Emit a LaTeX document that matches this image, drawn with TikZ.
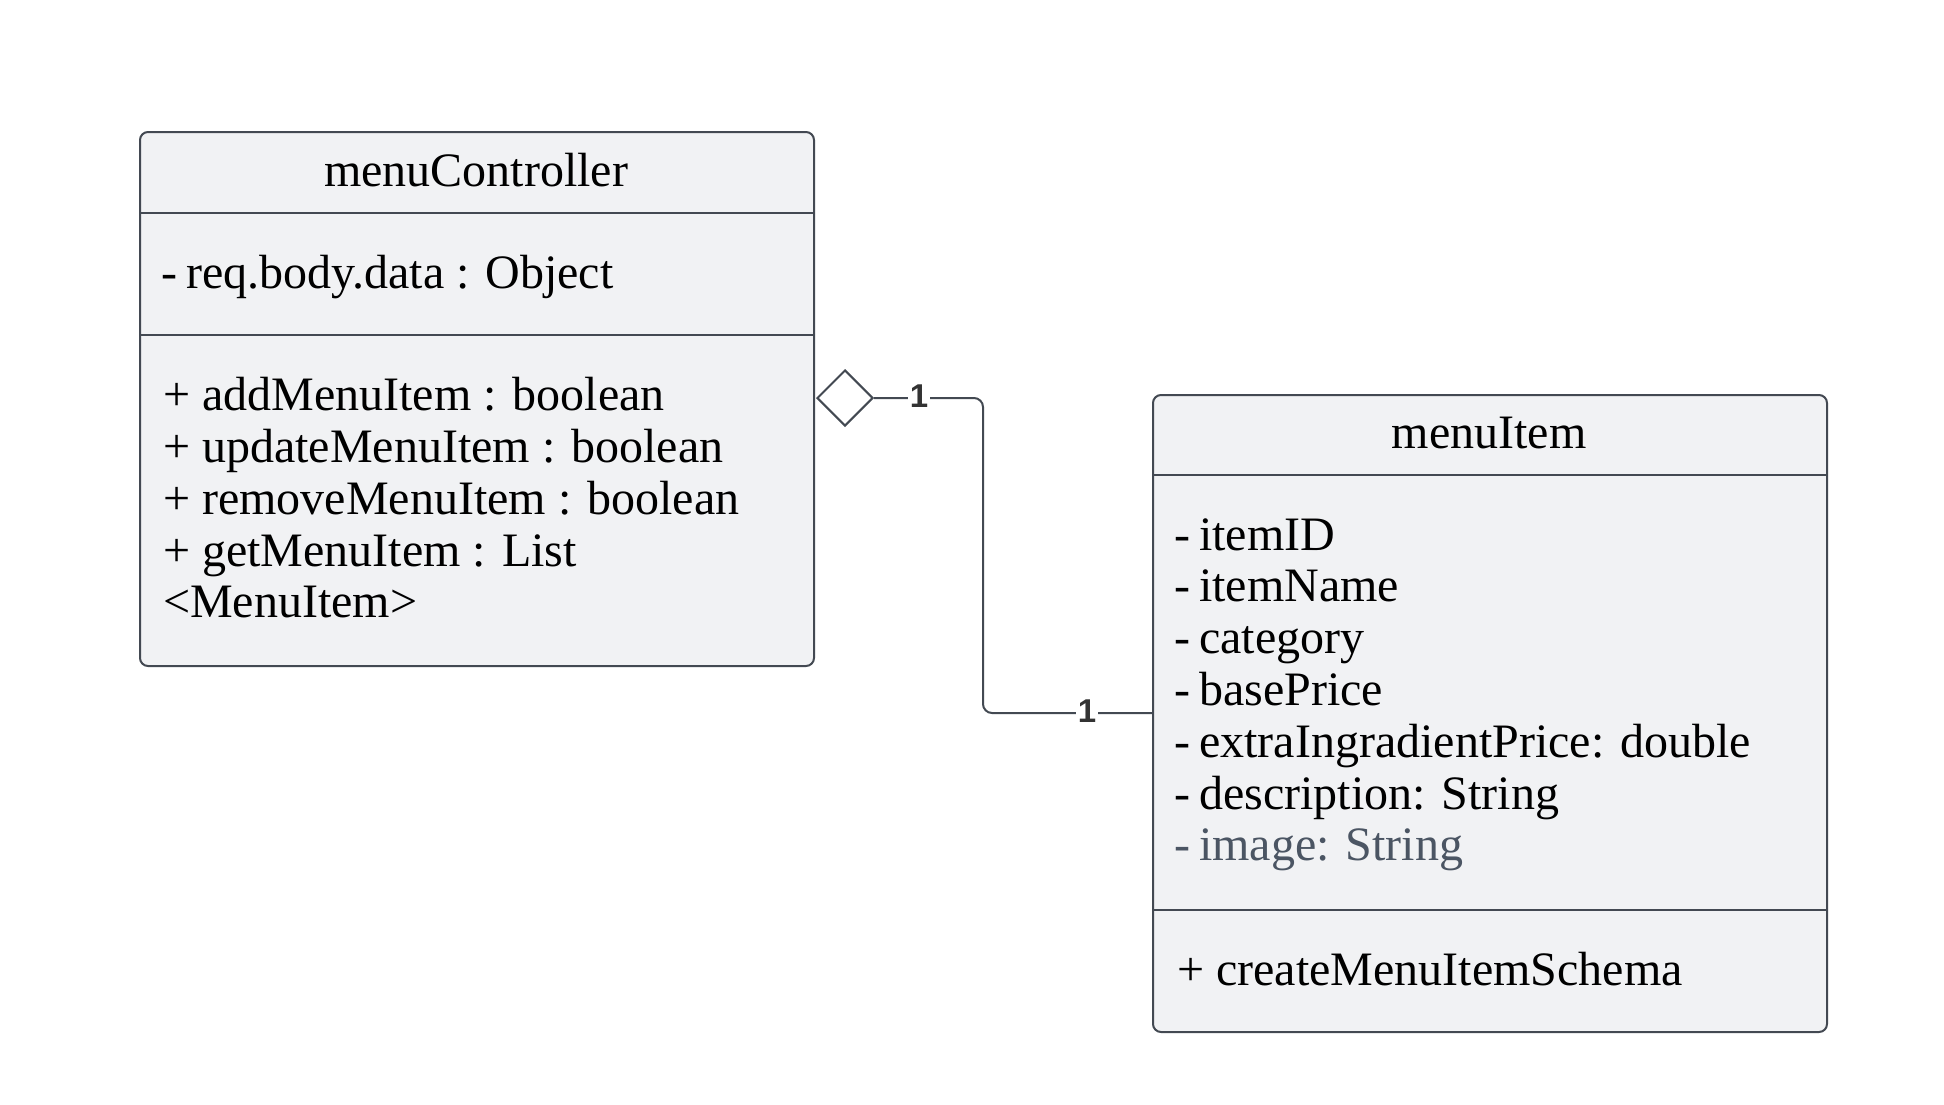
\documentclass[tikz,border=0pt]{standalone}
\usepackage{fontspec}
\setmainfont{Liberation Serif}
\newfontfamily\lblfont{Liberation Sans}
\usetikzlibrary{shapes.geometric}
\definecolor{strokec}{HTML}{434952}
\definecolor{fillc}{HTML}{F1F2F4}
\definecolor{grayt}{HTML}{4B5563}
\definecolor{lblc}{HTML}{333333}
\tikzset{
  classbox/.style={draw=strokec, fill=fillc, line width=2pt, rounded corners=8pt, anchor=north west, inner sep=0pt},
  sepline/.style={draw=strokec, line width=2pt},
  txt/.style={anchor=base west, inner sep=0pt, font=\fontsize{48}{52}\selectfont},
  ttl/.style={anchor=base, inner sep=0pt, font=\fontsize{48}{52}\selectfont},
  conn/.style={draw=strokec, line width=2pt, rounded corners=9pt},
  aggr/.style={diamond, draw=strokec, fill=white, line width=2pt, minimum width=56pt, minimum height=56pt, inner sep=0pt},
  mult/.style={fill=white, inner sep=1.5pt, text=lblc, font=\lblfont\bfseries\fontsize{33}{33}\selectfont}
}
\newcommand{\mn}{-\hspace{9pt}}
\begin{document}
\begin{tikzpicture}[x=1pt,y=-1pt]
\useasboundingbox (0,0) rectangle (1944,1104);
% menuController
\node[classbox, minimum width=674pt, minimum height=534pt] (ctrl) at (139,131) {};
\draw[sepline] (ctrl.west |- 0,213) -- (ctrl.east |- 0,213);
\draw[sepline] (ctrl.west |- 0,335) -- (ctrl.east |- 0,335);
\node[ttl] (ctrlT) at (476,186) {menuController};
\node[txt] (ca1) at (161,288) {\mn req.body.data : Object};
\node[txt] (cm1) at (163,410) {+ addMenuItem : boolean};
\node[txt] (cm2) at (163,462) {+ updateMenuItem : boolean};
\node[txt] (cm3) at (163,514) {+ removeMenuItem : boolean};
\node[txt] (cm4) at (163,566) {+ getMenuItem : List};
\node[txt] (cm5) at (163,617) {<MenuItem>};
% menuItem
\node[classbox, minimum width=674pt, minimum height=637pt] (item) at (1152,394) {};
\draw[sepline] (item.west |- 0,475) -- (item.east |- 0,475);
\draw[sepline] (item.west |- 0,910) -- (item.east |- 0,910);
\node[ttl] (itemT) at (1489,448) {menuItem};
\node[txt] (ia1) at (1174,550) {\mn itemID};
\node[txt] (ia2) at (1174,601) {\mn itemName};
\node[txt] (ia3) at (1174,653) {\mn category};
\node[txt] (ia4) at (1174,705) {\mn basePrice};
\node[txt] (ia5) at (1174,757) {\mn extraIngradientPrice: double};
\node[txt] (ia6) at (1174,809) {\mn description: String};
\node[txt, text=grayt] (ia7) at (1174,860) {\mn image: String};
\node[txt] (im1) at (1177,985) {+ createMenuItemSchema};
% aggregation
\node[aggr] (agg) at (845,398) {};
\coordinate (itemIn) at (1152,713);
\draw[conn] (agg.east) -- (983,398) -- (983,713) -- (itemIn);
\node[mult] (m1) at (919,396) {1};
\node[mult] (m2) at (1087,711) {1};
\end{tikzpicture}
\end{document}
